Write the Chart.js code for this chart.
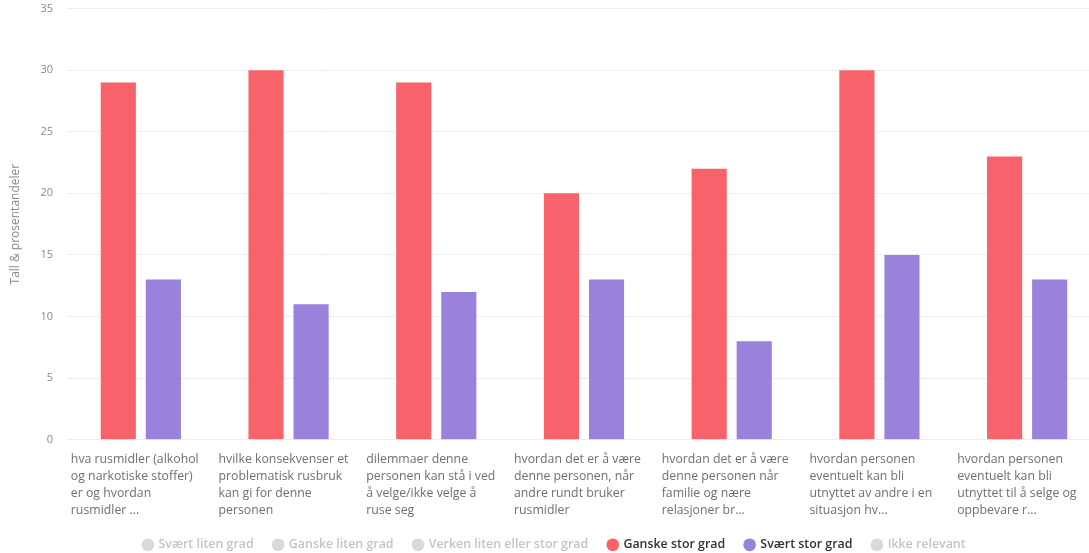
<!DOCTYPE html>
<html lang="no">
<head>
<meta charset="utf-8">
<title>Grad av læring</title>
<script src="https://cdn.jsdelivr.net/npm/chart.js@4.4.1/dist/chart.umd.min.js"></script>
<style>
  html, body { margin: 0; padding: 0; background: #ffffff; overflow: hidden; }
  #wrap { position: relative; width: 1103px; height: 561px; }
</style>
</head>
<body>
<div id="wrap"><canvas id="chart"></canvas></div>
<script>
// Kategorier (tekst delt i linjer)
const categories = [
  ["hva rusmidler (alkohol", "og narkotiske stoffer)", "er og hvordan", "rusmidler ..."],
  ["hvilke konsekvenser et", "problematisk rusbruk", "kan gi for denne", "personen"],
  ["dilemmaer denne", "personen kan stå i ved", "å velge/ikke velge å", "ruse seg"],
  ["hvordan det er å være", "denne personen, når", "andre rundt bruker", "rusmidler"],
  ["hvordan det er å være", "denne personen når", "familie og nære", "relasjoner br..."],
  ["hvordan personen", "eventuelt kan bli", "utnyttet av andre i en", "situasjon hv..."],
  ["hvordan personen", "eventuelt kan bli", "utnyttet til å selge og", "oppbevare r..."]
];

// Svarfordeling (antall)
const seriesNames = [
  "Svært liten grad",
  "Ganske liten grad",
  "Verken liten eller stor grad",
  "Ganske stor grad",
  "Svært stor grad",
  "Ikke relevant"
];
const ganskeStorGrad = [29, 30, 29, 20, 22, 30, 23];
const svaertStorGrad = [13, 11, 12, 13, 8, 15, 13];

const yTicks = { min: 0, max: 35, step: 5 };
const yTitle = "Tall & prosentandeler";

const RED = "#f8636b";
const PURPLE = "#9a82dc";
const GREY = "#cfcfcf";

const datasets = [
  { label: seriesNames[0], data: [], backgroundColor: GREY, hidden: true },
  { label: seriesNames[1], data: [], backgroundColor: GREY, hidden: true },
  { label: seriesNames[2], data: [], backgroundColor: GREY, hidden: true },
  { label: seriesNames[3], data: ganskeStorGrad, backgroundColor: RED },
  { label: seriesNames[4], data: svaertStorGrad, backgroundColor: PURPLE },
  { label: seriesNames[5], data: [], backgroundColor: GREY, hidden: true }
];

new Chart(document.getElementById("chart"), {
  type: "bar",
  data: { labels: categories, datasets },
  options: {
    responsive: true,
    maintainAspectRatio: false,
    animation: false,
    layout: { padding: { left: 8, right: 2, top: 0, bottom: 0 } },
    datasets: {
      bar: { categoryPercentage: 0.61, barPercentage: 0.78, borderWidth: 0 }
    },
    scales: {
      x: {
        grid: { display: false },
        border: { display: false },
        afterFit(scale) {
          // lines are left-aligned inside each column: no extra right padding needed
          scale.paddingRight = 0;
          scale.height -= 3;
        },
        ticks: {
          autoSkip: false,
          maxRotation: 0,
          minRotation: 0,
          align: "start",
          labelOffset: -70,
          padding: 3,
          color: "#6f6f6f",
          font: { family: "'Open Sans', sans-serif", size: 12.3, lineHeight: 1.38 }
        }
      },
      y: {
        min: yTicks.min,
        max: yTicks.max,
        ticks: {
          stepSize: yTicks.step,
          color: "#8a8a8a",
          padding: 2,
          font: { family: "'Open Sans', sans-serif", size: 11 }
        },
        grid: { color: "#eeeeee", drawTicks: true, tickLength: 12, tickColor: "rgba(0,0,0,0)" },
        border: { display: false },
        title: {
          display: true,
          text: yTitle,
          color: "#8a8a8a",
          padding: { top: 0, bottom: 16 },
          font: { family: "'Open Sans', sans-serif", size: 12 }
        }
      }
    },
    plugins: {
      tooltip: { enabled: false },
      legend: {
        position: "bottom",
        onClick: () => {},
        labels: {
          usePointStyle: true,
          pointStyle: "circle",
          boxWidth: 9,
          boxHeight: 9,
          padding: 20,
          color: "#333333",
          font: { family: "'Open Sans', sans-serif", size: 12.4, weight: "600" },
          generateLabels(chart) {
            return chart.data.datasets.map((ds, i) => {
              const shown = chart.isDatasetVisible(i);
              return {
                text: ds.label,
                fillStyle: shown ? ds.backgroundColor : "#d9d9d9",
                strokeStyle: shown ? ds.backgroundColor : "#d9d9d9",
                fontColor: shown ? "#333333" : "#c4c4c4",
                lineWidth: 0,
                pointStyle: "circle",
                hidden: false,
                datasetIndex: i
              };
            });
          }
        }
      }
    }
  }
});
</script>
</body>
</html>
